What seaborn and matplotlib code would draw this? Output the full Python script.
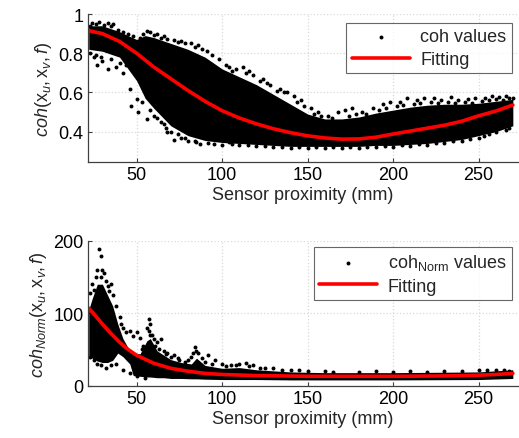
import numpy as np
import matplotlib
matplotlib.use("Agg")
import matplotlib.pyplot as plt
import seaborn as sns

# ---- top panel: coh ----
coh_fit_x = [22, 30, 40, 50, 60, 70, 80, 90, 100, 110, 120, 130, 140, 150,
             160, 170, 180, 190, 200, 210, 220, 230, 240, 250, 260, 270]
coh_fit_y = [0.915, 0.90, 0.86, 0.80, 0.73, 0.67, 0.61, 0.555, 0.507, 0.47,
             0.44, 0.415, 0.395, 0.379, 0.368, 0.362, 0.363, 0.372, 0.388,
             0.403, 0.418, 0.433, 0.453, 0.481, 0.505, 0.536]

# dense part of the cloud (upper / lower edge)
coh_band_x = [22, 30, 40, 50, 55, 60, 70, 80, 90, 100, 110, 120, 130, 140,
              150, 160, 170, 180, 190, 200, 210, 220, 230, 240, 250, 260, 270]
coh_band_hi = [0.94, 0.94, 0.91, 0.87, 0.89, 0.88, 0.85, 0.82, 0.78, 0.72,
               0.68, 0.64, 0.59, 0.54, 0.49, 0.465, 0.465, 0.475, 0.495, 0.51,
               0.525, 0.535, 0.54, 0.54, 0.545, 0.555, 0.565]
coh_band_lo = [0.82, 0.81, 0.78, 0.66, 0.57, 0.52, 0.43, 0.38, 0.355, 0.345,
               0.34, 0.335, 0.33, 0.325, 0.325, 0.325, 0.325, 0.325, 0.33,
               0.33, 0.335, 0.34, 0.35, 0.36, 0.38, 0.40, 0.43]

# scattered points around the dense part
coh_pts_x = [24, 28, 33, 36, 45, 52, 56, 58, 62, 66, 72, 76, 82, 86, 91, 98,
             104, 108, 112, 116, 118, 124, 128, 134, 138, 142, 146, 152, 156,
             162, 168, 172, 176, 182, 188, 194, 198, 204, 208, 214, 218, 224,
             228, 234, 238, 244, 248, 254, 258, 262, 266, 268,
             23, 26, 31, 35, 39, 42, 48, 54, 60, 64, 68, 74, 78, 84, 88, 94,
             102, 106, 114, 122, 126, 132, 136, 144, 148, 154, 158, 164, 174,
             178, 184, 192, 196, 202, 206, 212, 216, 222, 226, 232, 236, 242,
             246, 252, 256, 260, 264, 270,
             25, 27, 30, 33, 38, 42, 44, 47, 51, 50, 56, 60, 64, 67, 68, 72,
             76, 80, 84, 87, 95, 100, 104, 110, 120, 130, 140, 150, 160, 170,
             180, 190, 200, 210, 220, 230, 240, 250, 251, 256, 258, 262, 266,
             23, 26, 29, 35, 40, 46, 53, 58, 62, 66, 70, 74, 78, 85, 92, 106,
             115, 125, 135, 145, 155, 165, 175, 185, 195, 205, 215, 225, 235,
             245, 253, 260, 268]
coh_pts_y = [0.955, 0.96, 0.955, 0.95, 0.90, 0.88, 0.915, 0.91, 0.90, 0.89,
             0.87, 0.86, 0.85, 0.84, 0.81, 0.77, 0.73, 0.72, 0.73, 0.71, 0.69,
             0.67, 0.64, 0.62, 0.60, 0.58, 0.56, 0.52, 0.50, 0.48, 0.50, 0.51,
             0.52, 0.50, 0.52, 0.54, 0.55, 0.55, 0.57, 0.56, 0.57, 0.57, 0.56,
             0.575, 0.56, 0.565, 0.57, 0.57, 0.58, 0.575, 0.58, 0.57,
             0.94, 0.95, 0.945, 0.94, 0.92, 0.91, 0.89, 0.90, 0.895, 0.88,
             0.875, 0.855, 0.85, 0.83, 0.82, 0.79, 0.74, 0.71, 0.70, 0.66,
             0.65, 0.61, 0.60, 0.55, 0.53, 0.49, 0.48, 0.47, 0.48, 0.49, 0.49,
             0.51, 0.52, 0.53, 0.535, 0.54, 0.545, 0.55, 0.545, 0.55, 0.545,
             0.55, 0.545, 0.555, 0.56, 0.565, 0.56, 0.57,
             0.78, 0.74, 0.76, 0.72, 0.73, 0.70, 0.74, 0.53, 0.50, 0.566, 0.464,
             0.48, 0.45, 0.42, 0.40, 0.36, 0.37, 0.355, 0.35, 0.337, 0.335,
             0.33, 0.345, 0.33, 0.325, 0.32, 0.315, 0.315, 0.315, 0.315,
             0.318, 0.32, 0.32, 0.325, 0.33, 0.34, 0.35, 0.37, 0.40, 0.39,
             0.413, 0.455, 0.41,
             0.80, 0.79, 0.78, 0.77, 0.75, 0.62, 0.55, 0.51, 0.47, 0.44, 0.40,
             0.39, 0.37, 0.345, 0.34, 0.335, 0.33, 0.325, 0.32, 0.32, 0.32,
             0.32, 0.32, 0.322, 0.325, 0.33, 0.335, 0.34, 0.35, 0.365, 0.38,
             0.40, 0.42]

# ---- bottom panel: coh_Norm ----
norm_fit_x = [22, 25, 30, 35, 40, 45, 50, 60, 70, 80, 90, 100, 120, 150,
              200, 230, 250, 260, 270]
norm_fit_y = [107, 99, 85, 72, 60, 50, 42, 31, 24, 20, 17, 15.5, 14, 13,
              13, 13.5, 14.5, 15.5, 17]

norm_band_x = [22, 24, 27, 30, 33, 36, 39, 42, 46, 48, 52, 56, 58, 62, 66,
               70, 76, 82, 85, 90, 100, 110, 120, 140, 160, 200, 250, 270]
norm_band_hi = [105, 120, 140, 140, 125, 110, 85, 65, 48, 45, 44, 62, 65, 48,
                42, 36, 32, 30, 38, 28, 24, 25, 22, 19, 18, 18, 19, 22]
norm_band_lo = [42, 38, 34, 32, 32, 35, 45, 40, 30, 14, 13, 12, 12, 11, 11,
                10, 10, 9.5, 9.5, 9, 8.5, 8.5, 8.5, 8, 8, 8, 8.5, 10]

norm_pts_x = [24, 23, 26, 27, 28, 29, 30, 29, 31, 32, 33, 34, 35, 36, 31, 27,
              25, 38, 40, 41, 42, 44, 46, 48, 50, 52, 54, 56, 57, 58, 59, 60,
              62, 64, 66, 68, 70, 72, 75, 78, 82, 84, 86, 88, 92, 96, 100,
              105, 110, 114, 118, 125, 130, 140, 150, 165, 180, 200, 220, 240,
              255, 265, 268,
              23, 25, 27, 29, 32, 35, 38, 42, 46, 50, 55,
              25, 26, 28, 30, 33, 36, 38, 40, 41, 43, 45, 47, 53, 55, 57, 58,
              61, 63, 67, 74, 80, 83, 85, 90, 94, 102, 108, 116, 122, 135,
              145, 160, 190, 210, 230, 250, 260]
norm_pts_y = [140, 128, 150, 160, 188, 179, 160, 150, 155, 145, 138, 130, 140,
              125, 120, 115, 132, 110, 95, 85, 80, 74, 75, 68, 74, 66, 55, 80,
              92, 85, 70, 65, 60, 64, 48, 45, 40, 42, 35, 33, 40, 53, 45, 38,
              42, 35, 30, 28, 30, 32, 28, 25, 24, 22, 20, 19, 19, 19, 19, 20,
              21, 22, 20,
              40, 35, 30, 28, 25, 28, 30, 22, 18, 14, 10,
              60, 50, 45, 40, 42, 45, 60, 65, 55, 50, 45, 40, 50, 48, 75, 70,
              55, 50, 44, 38, 36, 45, 48, 33, 30, 27, 28, 27, 24, 22, 21, 20,
              20, 20, 20, 21, 22]

x_ticks = [50, 100, 150, 200, 250]

sns.set_style("whitegrid")
plt.rcParams["font.family"] = ["Liberation Sans", "DejaVu Sans"]
plt.rcParams["mathtext.fontset"] = "custom"
plt.rcParams["mathtext.rm"] = "Liberation Sans"
plt.rcParams["mathtext.it"] = "Liberation Sans:italic"
FS = 13

fig = plt.figure(figsize=(5.19, 4.39), dpi=100)
ax1 = fig.add_axes([0.169, 0.6294, 0.830, 0.3364])
ax2 = fig.add_axes([0.169, 0.1191, 0.830, 0.3303])


def style_axes(ax):
    ax.set_xlim(21.4, 273.3)
    ax.set_xticks(x_ticks)
    ax.grid(True, color="#d9d9d9", linestyle=":", linewidth=0.9)
    for side in ["top", "right"]:
        ax.spines[side].set_visible(False)
    for side in ["left", "bottom"]:
        ax.spines[side].set_color("#404040")
        ax.spines[side].set_linewidth(0.9)
    ax.tick_params(axis="both", direction="in", length=3, width=0.8,
                   colors="#404040", labelcolor="black", labelsize=FS, pad=3,
                   bottom=True, left=True)
    ax.set_xlabel("Sensor proximity (mm)", fontsize=FS, labelpad=2)


def style_legend(ax, anchor):
    leg = ax.legend(loc="upper right", bbox_to_anchor=anchor,
                    fontsize=FS, frameon=True, fancybox=False,
                    edgecolor="#404040", handlelength=3.2, borderpad=0.3,
                    labelspacing=0.3, handletextpad=0.6, borderaxespad=0)
    leg.get_frame().set_linewidth(0.8)
    return leg


# top
ax1.fill_between(coh_band_x, coh_band_lo, coh_band_hi, color="black",
                 linewidth=0)
sns.scatterplot(x=coh_pts_x, y=coh_pts_y, ax=ax1, color="black", s=8,
                linewidth=0, label="coh values")
sns.lineplot(x=coh_fit_x, y=coh_fit_y, ax=ax1, color="red", linewidth=2.6,
             label="Fitting")
style_axes(ax1)
ax1.set_ylim(0.247, 1.0)
ax1.set_yticks([0.4, 0.6, 0.8, 1.0])
ax1.set_yticklabels(["0.4", "0.6", "0.8", "1"])
ax1.set_ylabel(r"$coh(\mathrm{x}_u,\mathrm{x}_v,f)$", fontsize=FS, labelpad=3)
style_legend(ax1, (0.985, 0.939))

# bottom
ax2.fill_between(norm_band_x, norm_band_lo, norm_band_hi, color="black",
                 linewidth=0)
sns.scatterplot(x=norm_pts_x, y=norm_pts_y, ax=ax2, color="black", s=8,
                linewidth=0, label=r"coh$_{\mathrm{Norm}}$ values")
sns.lineplot(x=norm_fit_x, y=norm_fit_y, ax=ax2, color="red", linewidth=2.6,
             label="Fitting")
style_axes(ax2)
ax2.set_ylim(0, 200)
ax2.set_yticks([0, 100, 200])
ax2.set_ylabel(r"$coh_{Norm}(\mathrm{x}_u,\mathrm{x}_v,f)$", fontsize=FS,
               labelpad=3)
style_legend(ax2, (0.985, 0.957))

fig.savefig("out.png", dpi=100)
plt.close(fig)
